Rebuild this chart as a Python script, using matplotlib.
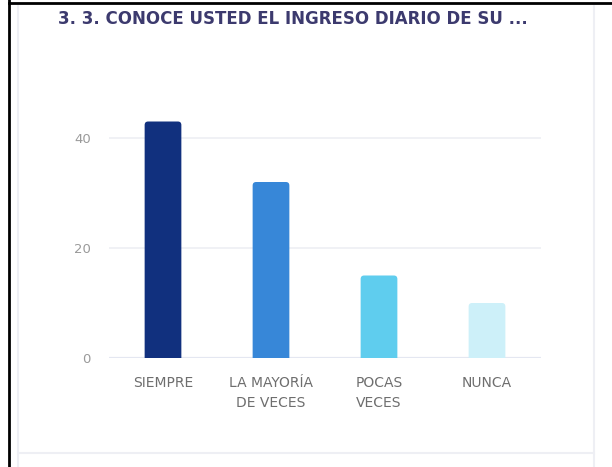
import matplotlib
matplotlib.use("Agg")
import matplotlib.pyplot as plt
from matplotlib.patches import FancyBboxPatch
from matplotlib.lines import Line2D

# data
categories = ["SIEMPRE", "LA MAYORÍA\nDE VECES", "POCAS\nVECES", "NUNCA"]
values = [43, 32, 15, 10]
bar_colors = ["#11307e", "#3787d8", "#5fcdee", "#cdf0f9"]
yticks = [0, 20, 40]
title = "3. 3. CONOCE USTED EL INGRESO DIARIO DE SU ..."

W, H = 612, 467
fig = plt.figure(figsize=(W / 100, H / 100), dpi=100)
fig.patch.set_facecolor("white")

ax = fig.add_axes([109 / W, (H - 358) / H, (541 - 109) / W, 275 / H])
ax.set_xlim(-0.5, len(categories) - 0.5)
ax.set_ylim(0, 50)

bars = ax.bar(range(len(categories)), values, width=0.34, color=bar_colors, zorder=3)

# swap the plain rectangles for ones with rounded top corners
px_x = (541 - 109) / len(categories)   # pixels per x unit
px_y = 275 / 50                        # pixels per y unit
r = 3.5
for b in bars:
    x0, y0 = b.get_x(), b.get_y()
    w, h = b.get_width(), b.get_height()
    fb = FancyBboxPatch((x0, y0 - 2), w, h + 2,
                        boxstyle=f"round,pad=0,rounding_size={r / px_x}",
                        mutation_aspect=px_x / px_y,
                        facecolor=b.get_facecolor(), edgecolor="none", zorder=3)
    b.remove()
    ax.add_patch(fb)

for y in yticks:
    ax.axhline(y, color="#e4e7f1" if y == 0 else "#eeeff4", lw=1.6 if y == 0 else 1.2, zorder=1)

for s in ax.spines.values():
    s.set_visible(False)
ax.set_yticks(yticks)
ax.set_yticklabels([str(v) for v in yticks], color="#9a9a9a", fontsize=9.5)
ax.set_xticks(range(len(categories)))
ax.set_xticklabels(categories, color="#6e6e6e", fontsize=10, linespacing=1.5, va="top")
ax.tick_params(axis="both", length=0)
ax.tick_params(axis="y", pad=13)
ax.tick_params(axis="x", pad=13)

fig.text(58 / W, 1 - 19 / H, title, fontsize=12, fontweight="bold",
         color="#3c3a6e", va="center", ha="left")

# card edges and screenshot frame
card = "#eeeff4"
fig.add_artist(Line2D([594 / W, 594 / W], [0, 1 - 6 / H], color=card, lw=1.5))
fig.add_artist(Line2D([18 / W, 594 / W], [1 - 453 / H, 1 - 453 / H], color=card, lw=1.5))
fig.add_artist(Line2D([18 / W, 18 / W], [0, 1 - 6 / H], color=card, lw=1.5))
fig.add_artist(Line2D([9 / W, 9 / W], [0, 1], color="black", lw=2))
fig.add_artist(Line2D([9 / W, 1], [1 - 3 / H, 1 - 3 / H], color="black", lw=2))

fig.savefig("out.png", dpi=100)
